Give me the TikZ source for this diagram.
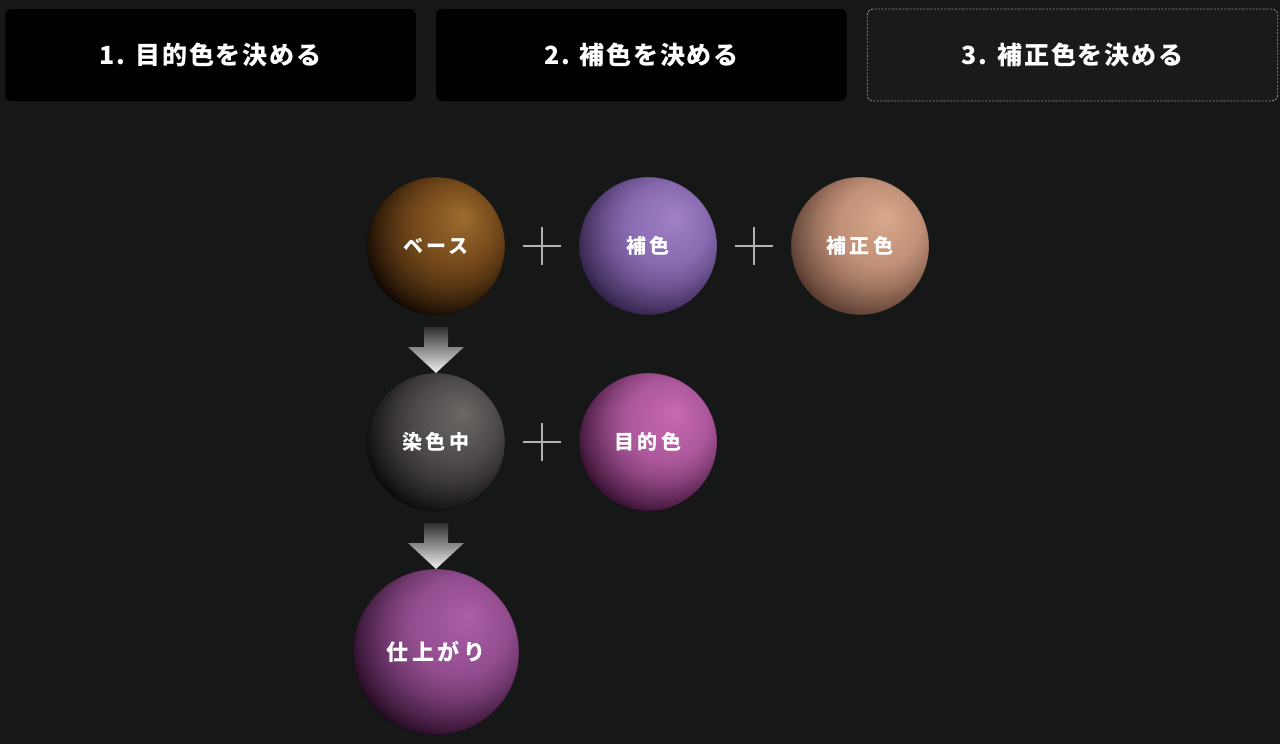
\documentclass[tikz,border=0pt]{standalone}
\usepackage{fontspec}
\setmainfont{Noto Sans CJK JP}
\newfontfamily\tabfont{Noto Sans CJK JP}[LetterSpace=7]
\newfontfamily\ballfont{Noto Sans CJK JP}[LetterSpace=16]
\usetikzlibrary{positioning, calc}

\definecolor{bgcol}{RGB}{22,23,23}
\definecolor{tabfill}{RGB}{26,26,26}
\definecolor{tabdash}{RGB}{150,150,150}
\definecolor{plusgray}{RGB}{178,178,178}
\definecolor{arrtop}{RGB}{48,48,48}
\definecolor{arrbot}{RGB}{240,240,240}
\colorlet{sphhi}{white}
\colorlet{sphmid}{gray}
\colorlet{sphlo}{black}

% matte sphere, light from the upper right
\pgfdeclareradialshading[sphhi,sphmid,sphlo]{sphere}{\pgfpoint{10bp}{11bp}}{%
  color(0bp)=(sphhi); color(15bp)=(sphmid);
  color(21bp)=(sphmid!72!sphlo); color(27bp)=(sphmid!32!sphlo); color(31bp)=(sphlo);
  color(50bp)=(sphlo)}

\tikzstyle{tab}=[rectangle, rounded corners=6pt, minimum width=410.5pt, minimum height=92pt,
  fill=black, text=white, inner sep=0pt, font=\tabfont\bfseries\fontsize{25}{30}\selectfont]
\tikzstyle{tabopen}=[fill=tabfill, draw=tabdash, line width=0.8pt, dash pattern=on 2pt off 1.5pt]
\tikzstyle{plus}=[rectangle, minimum size=38pt, inner sep=0pt,
  path picture={\draw[plusgray, line width=1.6pt]
    (path picture bounding box.north) -- (path picture bounding box.south)
    (path picture bounding box.west) -- (path picture bounding box.east);}]
\tikzstyle{downarrow}=[top color=arrtop, bottom color=arrbot]
\tikzset{
  sphere/.style n args={3}{circle, minimum size=138pt, inner sep=0pt, outer sep=0pt,
    /utils/exec={\definecolor{sphhi}{HTML}{#1}\definecolor{sphmid}{HTML}{#2}\definecolor{sphlo}{HTML}{#3}},
    shade, shading=sphere, draw=black, draw opacity=0.25, line width=0.8pt,
    text=white, font=\ballfont\bfseries\fontsize{20}{24}\selectfont},
  bigsphere/.style={minimum size=166pt, font=\ballfont\bfseries\fontsize{22}{26}\selectfont}
}

\begin{document}
\begin{tikzpicture}[x=1pt, y=-1pt]
    \fill[bgcol] (0,0) rectangle (1280,744);
    \useasboundingbox (0,0) rectangle (1280,744);

    % steps
    \node[tab] (step1) at (210.5,55) {1. 目的色を決める};
    \node[tab, right=20pt of step1] (step2) {2. 補色を決める};
    \node[tab, tabopen, right=20pt of step2] (step3) {3. 補正色を決める};

    % first row
    \node[sphere={9D6C2F}{74491A}{100701}] (base) at (436,246) {ベース};
    \node[sphere={A281C5}{8869B0}{2E2046}, right=74pt of base] (comp) {補色};
    \node[sphere={D8A98B}{C09077}{54382D}, right=74pt of comp] (corr) {補正色};
    \node[plus] (plus1) at ($(base)!0.5!(comp)$) {};
    \node[plus] (plus2) at ($(comp)!0.5!(corr)$) {};

    % second row
    \node[sphere={6D6866}{4E4A49}{0A0909}, below=58pt of base] (dye) {染色中};
    \node[sphere={C968B5}{AB579B}{330E2D}, right=74pt of dye] (target) {目的色};
    \node[plus] (plus3) at ($(dye)!0.5!(target)$) {};

    % result
    \node[sphere={AB5FA7}{914C8E}{240A22}, bigsphere, below=58pt of dye] (done) {仕上がり};

    \shade[downarrow] ($(base.south)+(-12,12)$) -- ($(base.south)+(12,12)$)
        -- ($(dye.north)+(12,-26)$) -- ($(dye.north)+(28,-26)$) -- (dye.north)
        -- ($(dye.north)+(-28,-26)$) -- ($(dye.north)+(-12,-26)$) -- cycle;
    \shade[downarrow] ($(dye.south)+(-12,12)$) -- ($(dye.south)+(12,12)$)
        -- ($(done.north)+(12,-26)$) -- ($(done.north)+(28,-26)$) -- (done.north)
        -- ($(done.north)+(-28,-26)$) -- ($(done.north)+(-12,-26)$) -- cycle;
\end{tikzpicture}
\end{document}
